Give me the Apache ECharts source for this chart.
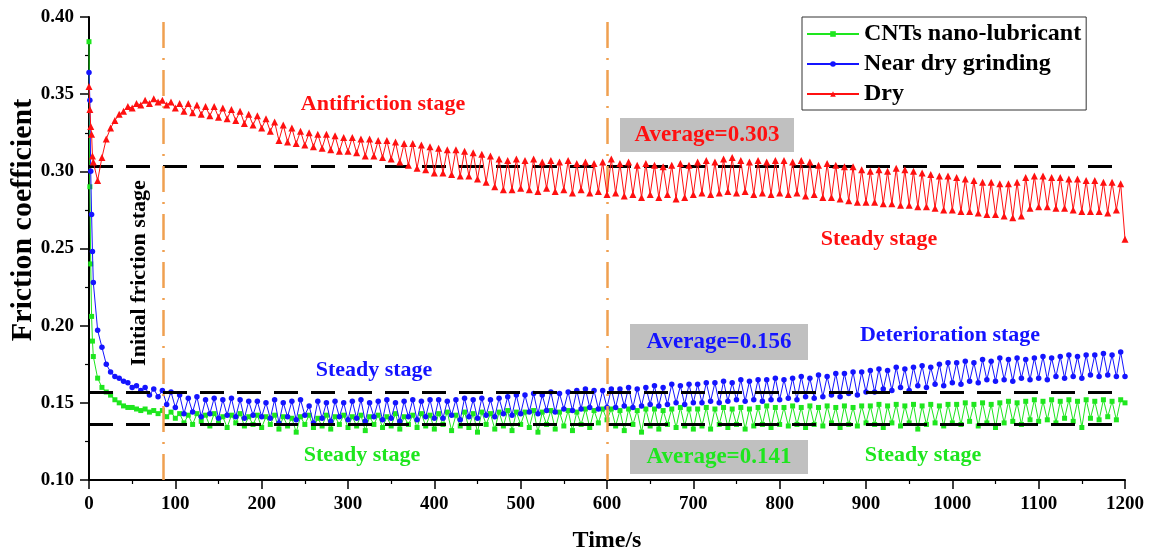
<!DOCTYPE html>
<html>
<head>
<meta charset="utf-8">
<script src="https://cdn.jsdelivr.net/npm/echarts@6/dist/echarts.min.js"></script>
<style>
  html, body { margin: 0; padding: 0; background: #fff; }
  #grafico { width: 1157px; height: 549px; }
</style>
</head>
<body>
<div id="grafico"></div>
<script>
// tiempos: primeros segundos cada 1 s, luego cada 5 s
var headTimes = [0, 1, 2, 3, 4];
var stepTime = 5;
var endTime = 1200;

var seriesNames = ['CNTs nano-lubricant', 'Near dry grinding', 'Dry'];

// coeficiente de friccion, lubricante CNTs
var cntsValues = [
  0.384, 0.290, 0.240, 0.206, 0.190,
  0.180, 0.166, 0.160, 0.157, 0.155, 0.152, 0.150, 0.148, 0.147, 0.147, 0.146, 0.145, 0.146, 0.144, 0.145, 0.143, 0.145, 0.141, 0.144, 0.140,
  0.143, 0.137, 0.142, 0.136, 0.143, 0.138, 0.142, 0.135, 0.143, 0.137, 0.141, 0.134, 0.142, 0.137, 0.143, 0.135, 0.141, 0.136, 0.142, 0.134,
  0.141, 0.136, 0.142, 0.133, 0.141, 0.135, 0.140, 0.131, 0.141, 0.136, 0.142, 0.134, 0.140, 0.135, 0.142, 0.133, 0.141, 0.136, 0.142, 0.134,
  0.141, 0.135, 0.142, 0.132, 0.141, 0.136, 0.142, 0.134, 0.141, 0.135, 0.143, 0.133, 0.141, 0.136, 0.142, 0.134, 0.143, 0.135, 0.142, 0.133,
  0.143, 0.136, 0.144, 0.132, 0.142, 0.135, 0.144, 0.134, 0.143, 0.131, 0.144, 0.136, 0.143, 0.133, 0.144, 0.135, 0.145, 0.132, 0.144, 0.136,
  0.144, 0.134, 0.145, 0.131, 0.144, 0.136, 0.145, 0.133, 0.144, 0.135, 0.145, 0.132, 0.144, 0.136, 0.146, 0.134, 0.145, 0.137, 0.146, 0.139,
  0.146, 0.135, 0.145, 0.132, 0.146, 0.136, 0.145, 0.131, 0.146, 0.135, 0.146, 0.133, 0.145, 0.136, 0.146, 0.134, 0.147, 0.135, 0.146, 0.133,
  0.146, 0.135, 0.147, 0.133, 0.146, 0.136, 0.147, 0.134, 0.146, 0.136, 0.147, 0.133, 0.146, 0.135, 0.147, 0.136, 0.148, 0.134, 0.147, 0.136,
  0.147, 0.135, 0.148, 0.136, 0.147, 0.134, 0.148, 0.136, 0.147, 0.135, 0.148, 0.137, 0.147, 0.134, 0.148, 0.136, 0.147, 0.135, 0.148, 0.137,
  0.148, 0.136, 0.149, 0.134, 0.148, 0.137, 0.149, 0.135, 0.148, 0.137, 0.149, 0.133, 0.148, 0.136, 0.149, 0.137, 0.148, 0.135, 0.149, 0.137,
  0.149, 0.136, 0.150, 0.138, 0.149, 0.135, 0.150, 0.137, 0.149, 0.134, 0.150, 0.137, 0.151, 0.138, 0.150, 0.136, 0.151, 0.139, 0.152, 0.138,
  0.151, 0.139, 0.152, 0.137, 0.151, 0.140, 0.152, 0.138, 0.151, 0.134, 0.152, 0.140, 0.151, 0.139, 0.152, 0.141, 0.151, 0.139, 0.152, 0.150
];

// rectificado casi en seco
var nearDryValues = [
  0.364, 0.346, 0.300, 0.272, 0.248,
  0.228, 0.197, 0.186, 0.175, 0.170, 0.167, 0.166, 0.164, 0.163, 0.160, 0.161, 0.158, 0.160, 0.155, 0.159, 0.154, 0.158, 0.149, 0.157, 0.147,
  0.155, 0.143, 0.153, 0.144, 0.154, 0.141, 0.152, 0.143, 0.153, 0.140, 0.152, 0.142, 0.153, 0.141, 0.152, 0.140, 0.151, 0.142, 0.151, 0.141,
  0.150, 0.140, 0.152, 0.137, 0.150, 0.141, 0.151, 0.139, 0.152, 0.142, 0.148, 0.137, 0.151, 0.140, 0.150, 0.138, 0.151, 0.141, 0.150, 0.139,
  0.151, 0.140, 0.152, 0.138, 0.150, 0.141, 0.151, 0.139, 0.152, 0.140, 0.150, 0.138, 0.151, 0.141, 0.152, 0.139, 0.151, 0.141, 0.152, 0.140,
  0.152, 0.140, 0.151, 0.142, 0.152, 0.139, 0.153, 0.141, 0.152, 0.140, 0.153, 0.142, 0.152, 0.141, 0.153, 0.143, 0.154, 0.142, 0.155, 0.143,
  0.155, 0.144, 0.156, 0.143, 0.155, 0.145, 0.157, 0.144, 0.156, 0.146, 0.157, 0.145, 0.158, 0.146, 0.159, 0.147, 0.158, 0.146, 0.158, 0.147,
  0.159, 0.147, 0.159, 0.148, 0.160, 0.147, 0.159, 0.148, 0.160, 0.149, 0.161, 0.148, 0.160, 0.149, 0.162, 0.150, 0.161, 0.149, 0.162, 0.150,
  0.162, 0.150, 0.163, 0.151, 0.163, 0.150, 0.164, 0.151, 0.163, 0.152, 0.165, 0.151, 0.164, 0.152, 0.165, 0.151, 0.165, 0.152, 0.166, 0.152,
  0.165, 0.153, 0.166, 0.152, 0.167, 0.154, 0.166, 0.153, 0.168, 0.154, 0.167, 0.155, 0.169, 0.154, 0.169, 0.156, 0.170, 0.155, 0.170, 0.157,
  0.171, 0.157, 0.172, 0.159, 0.171, 0.158, 0.173, 0.160, 0.172, 0.158, 0.173, 0.161, 0.174, 0.160, 0.173, 0.162, 0.175, 0.161, 0.176, 0.163,
  0.176, 0.162, 0.177, 0.164, 0.176, 0.163, 0.178, 0.165, 0.177, 0.164, 0.179, 0.165, 0.178, 0.164, 0.179, 0.166, 0.178, 0.165, 0.179, 0.166,
  0.180, 0.165, 0.179, 0.167, 0.180, 0.166, 0.181, 0.167, 0.180, 0.166, 0.181, 0.168, 0.181, 0.167, 0.182, 0.168, 0.181, 0.167, 0.183, 0.167
];

// en seco
var dryValues = [
  0.355, 0.340, 0.329, 0.324, 0.310,
  0.306, 0.294, 0.309, 0.321, 0.328, 0.333, 0.337, 0.339, 0.342, 0.341, 0.344, 0.343, 0.346, 0.344, 0.347, 0.345, 0.346, 0.343, 0.345, 0.341,
  0.344, 0.339, 0.344, 0.338, 0.343, 0.337, 0.342, 0.336, 0.342, 0.335, 0.341, 0.334, 0.340, 0.333, 0.339, 0.331, 0.337, 0.330, 0.336, 0.328,
  0.334, 0.326, 0.332, 0.320, 0.330, 0.319, 0.328, 0.318, 0.326, 0.317, 0.325, 0.316, 0.324, 0.315, 0.324, 0.314, 0.323, 0.313, 0.322, 0.313,
  0.322, 0.312, 0.321, 0.310, 0.321, 0.310, 0.320, 0.309, 0.320, 0.308, 0.319, 0.306, 0.318, 0.304, 0.318, 0.302, 0.317, 0.301, 0.316, 0.299,
  0.315, 0.299, 0.314, 0.298, 0.314, 0.297, 0.313, 0.297, 0.312, 0.295, 0.311, 0.293, 0.310, 0.290, 0.308, 0.288, 0.307, 0.288, 0.308, 0.289,
  0.307, 0.288, 0.308, 0.287, 0.306, 0.289, 0.307, 0.287, 0.306, 0.288, 0.307, 0.286, 0.305, 0.288, 0.306, 0.286, 0.305, 0.287, 0.306, 0.285,
  0.308, 0.286, 0.305, 0.284, 0.306, 0.285, 0.304, 0.283, 0.305, 0.285, 0.304, 0.283, 0.303, 0.285, 0.304, 0.282, 0.305, 0.283, 0.304, 0.285,
  0.306, 0.286, 0.307, 0.285, 0.306, 0.286, 0.308, 0.287, 0.309, 0.286, 0.307, 0.287, 0.306, 0.285, 0.307, 0.286, 0.306, 0.285, 0.307, 0.286,
  0.307, 0.285, 0.306, 0.286, 0.307, 0.284, 0.306, 0.285, 0.304, 0.283, 0.305, 0.283, 0.304, 0.282, 0.303, 0.281, 0.303, 0.280, 0.301, 0.280,
  0.300, 0.280, 0.301, 0.279, 0.300, 0.279, 0.302, 0.278, 0.301, 0.278, 0.300, 0.277, 0.299, 0.277, 0.298, 0.276, 0.297, 0.275, 0.297, 0.275,
  0.296, 0.274, 0.295, 0.274, 0.294, 0.273, 0.293, 0.272, 0.293, 0.272, 0.292, 0.271, 0.292, 0.270, 0.293, 0.271, 0.296, 0.276, 0.297, 0.277,
  0.297, 0.277, 0.296, 0.276, 0.296, 0.276, 0.295, 0.275, 0.295, 0.274, 0.294, 0.274, 0.294, 0.274, 0.293, 0.273, 0.293, 0.275, 0.292, 0.256
];

var averageLines = [0.303, 0.157, 0.136];
var stageBounds = [86, 600];
var yTicks = [0.10, 0.15, 0.20, 0.25, 0.30, 0.35, 0.40];
var xTicks = [0, 100, 200, 300, 400, 500, 600, 700, 800, 900, 1000, 1100, 1200];

var times = headTimes.slice();
for (var t = stepTime; t <= endTime; t += stepTime) {
    times.push(t);
}

function pares(valores) {
    var out = [];
    for (var i = 0; i < times.length; i++) {
        out.push([times[i], valores[i]]);
    }
    return out;
}

var fuente = '"Liberation Serif", "Times New Roman", serif';
var verde = '#1ee61e';
var azul = '#1414ff';
var rojo = '#ff1010';

var myChart = echarts.init(document.getElementById('grafico'));

function texto(str, x, y, color, size, rot) {
    return {
        type: 'text',
        x: x, y: y,
        rotation: rot || 0,
        z: 20,
        style: {
            text: str,
            fill: color,
            font: 'bold ' + size + 'px ' + fuente,
            align: 'center',
            verticalAlign: 'middle'
        }
    };
}

function caja(x, y, w, h) {
    return {
        type: 'rect',
        z: 19,
        shape: { x: x, y: y, width: w, height: h },
        style: { fill: '#c0c0c0' }
    };
}

var option = {
    animation: false,
    backgroundColor: '#fff',
    grid: { left: 89, right: 32, top: 17, bottom: 69, containLabel: false, outerBoundsMode: 'none' },
    legend: {
        orient: 'vertical',
        left: 802,
        top: 17,
        padding: [5, 5, 4, 4],
        itemGap: 6,
        itemWidth: 52,
        itemHeight: 7,
        borderColor: '#333',
        borderWidth: 1,
        textStyle: { fontFamily: fuente, fontWeight: 'bold', fontSize: 24, color: '#000', lineHeight: 24 },
        data: seriesNames
    },
    xAxis: {
        type: 'value',
        min: xTicks[0],
        max: xTicks[xTicks.length - 1],
        interval: 100,
        name: 'Time/s',
        nameLocation: 'middle',
        nameGap: 49,
        nameTextStyle: { fontFamily: fuente, fontWeight: 'bold', fontSize: 24, color: '#000' },
        axisLine: { lineStyle: { color: '#000', width: 2 } },
        axisTick: { length: 9, lineStyle: { color: '#000', width: 1.5 } },
        minorTick: { show: true, splitNumber: 2, length: 4, lineStyle: { color: '#000', width: 1.2 } },
        axisLabel: {
            fontFamily: fuente, fontWeight: 'bold', fontSize: 19, color: '#000', margin: 15,
            formatter: function (v) { return String(v); }
        },
        splitLine: { show: false }
    },
    yAxis: {
        type: 'value',
        min: yTicks[0],
        max: yTicks[yTicks.length - 1],
        interval: 0.05,
        axisLine: { show: true, lineStyle: { color: '#000', width: 2 } },
        axisTick: { show: true, length: 9, lineStyle: { color: '#000', width: 1.5 } },
        minorTick: { show: true, splitNumber: 2, length: 4, lineStyle: { color: '#000', width: 1.2 } },
        axisLabel: {
            fontFamily: fuente, fontWeight: 'bold', fontSize: 19, color: '#000', margin: 15,
            formatter: function (v) { return v.toFixed(2); }
        },
        splitLine: { show: false }
    },
    series: [
        {
            name: seriesNames[0],
            type: 'line',
            data: pares(cntsValues),
            symbol: 'rect',
            symbolSize: 5,
            color: verde,
            lineStyle: { width: 1, color: verde },
            itemStyle: { color: verde },
            z: 3,
            markLine: {
                silent: true,
                symbol: 'none',
                precision: 3,
                label: { show: false },
                lineStyle: { color: '#000', width: 3, type: [24, 13] },
                data: averageLines.map(function (v) { return { yAxis: v }; })
            }
        },
        {
            name: seriesNames[1],
            type: 'line',
            data: pares(nearDryValues),
            symbol: 'circle',
            symbolSize: 5.5,
            color: azul,
            lineStyle: { width: 1, color: azul },
            itemStyle: { color: azul },
            z: 4,
            markLine: {
                silent: true,
                symbol: 'none',
                label: { show: false },
                lineStyle: { color: '#f0a050', width: 2.5, type: [26, 10, 2, 10] },
                data: stageBounds.map(function (v) { return { xAxis: v }; })
            }
        },
        {
            name: seriesNames[2],
            type: 'line',
            data: pares(dryValues),
            symbol: 'triangle',
            symbolSize: 7,
            color: rojo,
            lineStyle: { width: 1, color: rojo },
            itemStyle: { color: rojo },
            z: 5
        }
    ],
    graphic: [
        texto('Friction coefficient', 23, 220, '#000', 30, Math.PI / 2),
        texto('Antifriction stage', 383, 104, rojo, 22),
        caja(620, 118, 174, 34),
        texto('Average=0.303', 707, 135, rojo, 23),
        texto('Steady stage', 879, 239, rojo, 22),
        texto('Initial friction stage', 139, 273, '#000', 22, Math.PI / 2),
        texto('Steady stage', 374, 370, azul, 22),
        caja(630, 324, 178, 36),
        texto('Average=0.156', 719, 342, azul, 23),
        texto('Deterioration stage', 950, 335, azul, 22),
        texto('Steady stage', 362, 455, verde, 22),
        caja(630, 440, 178, 34),
        texto('Average=0.141', 719, 457, verde, 23),
        texto('Steady stage', 923, 455, verde, 22)
    ]
};

myChart.setOption(option, true);
</script>
</body>
</html>
